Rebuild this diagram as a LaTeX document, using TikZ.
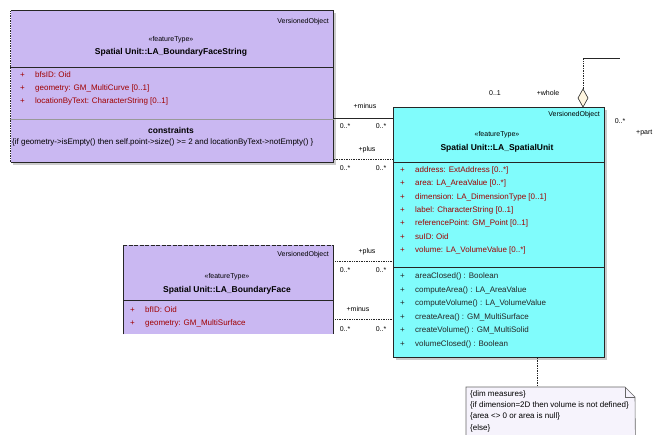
\documentclass[tikz,border=0pt]{standalone}
\usepackage{fontspec}
\setmainfont{Liberation Sans}
\usetikzlibrary{positioning}
\definecolor{lila}{HTML}{CAB8F2}
\definecolor{cyanbox}{HTML}{80FCFC}
\definecolor{attred}{HTML}{A00000}
\definecolor{notefill}{HTML}{F6F3FC}
\definecolor{diafill}{HTML}{FFF6E0}

\begin{document}
\begin{tikzpicture}[x=1pt,y=-1pt,
    txt/.style={font={\fontsize{7}{8}\selectfont},inner sep=0pt},
    clsname/.style={txt,font={\fontsize{8.5}{9}\selectfont\bfseries}},
    attr/.style={txt,anchor=west,text=attred,font={\fontsize{8}{9}\selectfont}},
    oper/.style={txt,anchor=west,text=black!85,font={\fontsize{8}{9}\selectfont}},
    role/.style={txt,font={\fontsize{7}{8}\selectfont}},
    notetxt/.style={txt,anchor=west,font={\fontsize{8}{9}\selectfont}},
    classbox/.style={draw=black!85,line width=0.8pt,inner sep=0pt,anchor=north west},
    assoc/.style={draw=black!85,line width=0.7pt},
    dep/.style={assoc,densely dotted,line width=0.9pt}]
\clip (0,0) rectangle (660,434);
\fill[white] (0,0) rectangle (660,434);

% LA_BoundaryFaceString
\fill[black!20] (13,13) rectangle (336,165);
\node[classbox,fill=lila,minimum width=323pt,minimum height=152pt] (bfs) at (10,10) {};
\draw[white,dash pattern=on 1pt off 1.5pt,line width=0.9pt] (bfs.south west) -- (bfs.north west);
\draw[black!85,line width=0.8pt] (bfs.west |- 0,67) -- (bfs.east |- 0,67);
\draw[black!40,line width=0.5pt] (bfs.west |- 0,119) -- (bfs.east |- 0,119);
\node[txt,anchor=east] (bfsparent) at (329,22) {VersionedObject};
\node[txt] (bfsstereo) at (171,40) {«featureType»};
\node[clsname] (bfsname) at (171,52) {Spatial Unit::LA\_BoundaryFaceString};
\foreach \y/\t in {75/bfsID: Oid,88/geometry: GM\_MultiCurve [0..1],101/locationByText: CharacterString [0..1]}{
  \node[attr] at (20,\y) {+};
  \node[attr] at (35,\y) {\t};
}
\node[clsname] (bfscons) at (171,130) {constraints};
\begin{scope}
\clip (bfs.north west) rectangle (bfs.south east);
\node[txt,anchor=west,font={\fontsize{8}{9}\selectfont}] (bfsrule) at (12,142) {\{if geometry->isEmpty() then self.point->size() >= 2 and locationByText->notEmpty() \}};
\end{scope}

% LA_SpatialUnit
\fill[black!20] (396,110) rectangle (607,360);
\node[classbox,fill=cyanbox,minimum width=211pt,minimum height=250pt] (su) at (393,107) {};
\draw[black!85,line width=0.8pt] (su.west |- 0,162) -- (su.east |- 0,162);
\draw[black!85,line width=0.8pt] (su.west |- 0,267) -- (su.east |- 0,267);
\node[txt,anchor=east] (suparent) at (600,115) {VersionedObject};
\node[txt] (sustereo) at (497,135) {«featureType»};
\node[clsname] (suname) at (497,148) {Spatial Unit::LA\_SpatialUnit};
\foreach \y/\t in {170/address: ExtAddress [0..*],183/area: LA\_AreaValue [0..*],
    197/dimension: LA\_DimensionType [0..1],210/label: CharacterString [0..1],
    223/referencePoint: GM\_Point [0..1],237/suID: Oid,250/volume: LA\_VolumeValue [0..*]}{
  \node[attr] at (400,\y) {+};
  \node[attr] at (415,\y) {\t};
}
\foreach \y/\t in {276/areaClosed() : Boolean,290/computeArea() : LA\_AreaValue,
    303/computeVolume() : LA\_VolumeValue,317/createArea() : GM\_MultiSurface,
    330/createVolume() : GM\_MultiSolid,344/volumeClosed() : Boolean}{
  \node[oper] at (400,\y) {+};
  \node[oper] at (415,\y) {\t};
}

% LA_BoundaryFace
\node[inner sep=0pt,anchor=north west,fill=lila,minimum width=210pt,minimum height=89pt] (bf) at (123,245) {};
\draw[black!85,line width=0.8pt] (bf.south west) -- (bf.north west);
\draw[black!85,line width=0.8pt] (bf.north east) -- (bf.south east);
\draw[black!85,line width=0.8pt,dash pattern=on 4pt off 1.5pt] (bf.north west) -- (bf.north east);
\draw[black!85,line width=0.8pt] (bf.west |- 0,300) -- (bf.east |- 0,300);
\node[txt,anchor=east] (bfparent) at (329,255) {VersionedObject};
\node[txt] (bfstereo) at (227,277) {«featureType»};
\node[clsname] (bfname) at (227,290) {Spatial Unit::LA\_BoundaryFace};
\foreach \y/\t in {310/bfID: Oid,323/geometry: GM\_MultiSurface}{
  \node[attr] at (130,\y) {+};
  \node[attr] at (145,\y) {\t};
}

% associations
\draw[assoc] (bfs.east |- 0,118) -- (su.west |- 0,118);
\draw[dep] (bfs.east |- 0,159) -- (su.west |- 0,159);
\draw[dep] (bf.east |- 0,261) -- (su.west |- 0,261);
\draw[dep] (bf.east |- 0,319) -- (su.west |- 0,319);
\node[role] (r1a) at (365,106) {+minus};
\node[role] (r1b) at (345,126) {0..*};
\node[role] (r1c) at (381,126) {0..*};
\node[role] (r2a) at (367,150) {+plus};
\node[role] (r2b) at (345,168) {0..*};
\node[role] (r2c) at (381,168) {0..*};
\node[role] (r3a) at (367,252) {+plus};
\node[role] (r3b) at (345,270) {0..*};
\node[role] (r3c) at (381,270) {0..*};
\node[role] (r4a) at (358,309) {+minus};
\node[role] (r4b) at (345,329) {0..*};
\node[role] (r4c) at (381,329) {0..*};

% aggregation whole/part
\coordinate (aggtop) at (583,89);
\coordinate (aggbend) at (583,58);
\coordinate (wholeend) at (620,58);
\draw[black!85,line width=0.6pt,fill=diafill] (su.north -| aggtop) -- ++(5,-9) -- (aggtop) -- ++(-5,9) -- cycle;
\draw[dep] (aggtop) -- (aggbend);
\draw[assoc,line width=0.9pt] (aggbend) -- (wholeend);
\node[role] (wmult) at (495,93) {0..1};
\node[role] (wrole) at (548,93) {+whole};
\node[role] (pmult) at (620,121) {0..*};
\node[role,anchor=west] (prole) at (636,133) {+part};

% note
\node[inner sep=0pt,anchor=north west,minimum width=169pt,minimum height=55pt] (note) at (466,387) {};
\draw[dep,line width=0.8pt] (su.south -| 537,0) -- (note.north -| 537,0);
\draw[black!60,line width=0.6pt,fill=notefill] (note.north west) -- (625,387) -- (635,397) -- (note.south east) -- (note.south west) -- cycle;
\draw[black!60,line width=0.6pt] (625,387) -- (625,397) -- (635,397);
\node[notetxt] (n1) at (470,394) {\{dim measures\}};
\node[notetxt] (n2) at (470,405) {\{if dimension=2D then volume is not defined\}};
\node[notetxt] (n3) at (470,416) {\{area <> 0 or area is null\}};
\node[notetxt] (n4) at (470,428) {\{else\}};
\end{tikzpicture}
\end{document}
